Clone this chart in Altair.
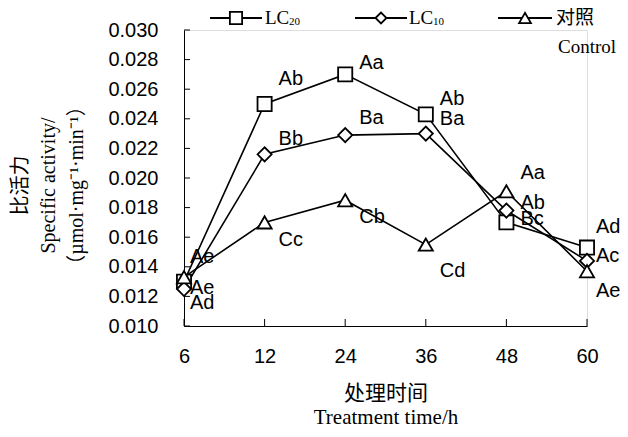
import altair as alt
import pandas as pd

# ---------------- data ----------------
times = ["6", "12", "24", "36", "48", "60"]
series_names = ["LC20", "LC10", "Control"]
lc20 = [0.0130, 0.0250, 0.0270, 0.0243, 0.0170, 0.0153]
lc10 = [0.0125, 0.0216, 0.0229, 0.0230, 0.0178, 0.0144]
control = [0.0133, 0.0170, 0.0185, 0.0155, 0.0191, 0.0137]

y_ticks = [0.010, 0.012, 0.014, 0.016, 0.018, 0.020, 0.022, 0.024, 0.026, 0.028, 0.030]

label_time = ["6", "6", "6",
              "12", "12", "12",
              "24", "24", "24",
              "36", "36", "36",
              "48", "48", "48",
              "60", "60", "60"]
label_y = [0.01466, 0.01257, 0.01155,
           0.02669, 0.02264, 0.01581,
           0.02777, 0.02405, 0.01736,
           0.02534, 0.02399, 0.01372,
           0.02034, 0.01831, 0.01723,
           0.01669, 0.01473, 0.01236]
label_text = ["Ae", "Ae", "Ad",
              "Ab", "Bb", "Cc",
              "Aa", "Ba", "Cb",
              "Ab", "Ba", "Cd",
              "Aa", "Ab", "Bc",
              "Ad", "Ac", "Ae"]

rows = []
for name, vals in zip(series_names, [lc20, lc10, control]):
    for t, v in zip(times, vals):
        rows.append({"series": name, "time": t, "value": v})
df = pd.DataFrame(rows)
labels_df = pd.DataFrame({"time": label_time, "y": label_y, "text": label_text})
xticks_df = pd.DataFrame({"time": times})
yticks_df = pd.DataFrame({"value": y_ticks})

W, H = 403, 296
SANS = "Liberation Sans"
SERIF = "Liberation Serif, Noto Sans CJK SC"

x_scale = alt.Scale(type="point", padding=0, domain=times)
y_scale = alt.Scale(domain=[0.010, 0.030], nice=False, zero=False)

x_axis = alt.Axis(
    title=["处理时间", "Treatment time/h"],
    titleFont=SERIF, titleFontSize=21, titleFontWeight="normal",
    titleLineHeight=24, titleBaseline="top", titleY=56, titleColor="black",
    labelFont=SANS, labelFontSize=20, labelAngle=0, labelPadding=20,
    labelColor="black", ticks=False, grid=False, domainColor="black",
    domainWidth=1,
)
y_axis = alt.Axis(
    title=["比活力", "Specific activity/", "（µmol·mg⁻¹·min⁻¹）"],
    titleFont=SERIF, titleFontSize=20, titleFontWeight="normal",
    titleLineHeight=28, titleAngle=270, titleBaseline="top",
    titleAlign="center", titleX=-174, titleY=155, titleColor="black",
    labelFont=SANS, labelFontSize=20, labelPadding=26, labelColor="black",
    format=".3f", values=y_ticks, ticks=False, grid=False,
    domainColor="black", domainWidth=1,
)

X = alt.X("time:O", sort=times, scale=x_scale, axis=x_axis)
Y = alt.Y("value:Q", scale=y_scale, axis=y_axis)

lines = alt.Chart(df).mark_line(color="black", strokeWidth=1.6).encode(
    x=X, y=Y, detail="series:N", order=alt.Order("time_idx:Q")
).transform_calculate(
    time_idx="indexof(['6','12','24','36','48','60'], datum.time)"
)

points = alt.Chart(df).mark_point(
    filled=True, fill="white", stroke="black", strokeWidth=1.8, opacity=1, size=200
).encode(
    x=X, y=Y,
    shape=alt.Shape("series:N", scale=alt.Scale(domain=series_names,
                    range=["square", "diamond", "triangle-up"]), legend=None),
)

xticks = alt.Chart(xticks_df).mark_rule(color="black", strokeWidth=1).encode(
    x=X, y=alt.value(H), y2=alt.value(H - 7)
)
yticks = alt.Chart(yticks_df).mark_rule(color="black", strokeWidth=1).encode(
    y=Y, x=alt.value(0), x2=alt.value(6)
)

text_base = alt.Chart(labels_df).encode(
    x=X, y=alt.Y("y:Q", scale=y_scale, axis=y_axis), text="text:N"
)
labels_first = text_base.transform_filter("datum.time == '6'").mark_text(
    align="left", baseline="middle", dx=6, font=SANS, fontSize=20, color="black")
labels_mid = text_base.transform_filter(
    "datum.time != '6' && datum.time != '60'").mark_text(
    align="left", baseline="middle", dx=14, font=SANS, fontSize=20, color="black")
labels_last = text_base.transform_filter("datum.time == '60'").mark_text(
    align="left", baseline="middle", dx=9, font=SANS, fontSize=20, color="black")

# ---------------- legend (drawn manually) ----------------
legend_layers = []
leg_y = -12
legend_items = [
    ("LC20", "square", 26, 78, 52, 150, [("LC", 81, 19, leg_y), ("20", 105, 11, leg_y + 4)]),
    ("LC10", "diamond", 171, 223, 197, 120, [("LC", 225, 19, leg_y), ("10", 249, 11, leg_y + 4)]),
    ("Control", "triangle-up", 314, 368, 341, 140, [("对照", 372, 19, leg_y), ("Control", 374, 19, leg_y + 29)]),
]
for name, shape, x1, x2, xm, sz, texts in legend_items:
    d = pd.DataFrame({"series": [name]})
    legend_layers.append(alt.Chart(d).mark_rule(color="black", strokeWidth=1.8).encode(
        x=alt.value(x1), x2=alt.value(x2), y=alt.value(leg_y)))
    legend_layers.append(alt.Chart(d).mark_point(
        shape=shape, filled=True, fill="white", stroke="black", strokeWidth=1.8,
        opacity=1, size=sz).encode(x=alt.value(xm), y=alt.value(leg_y)))
    for txt, tx, fs, ty in texts:
        legend_layers.append(alt.Chart(pd.DataFrame({"t": [txt]})).mark_text(
            align="left", baseline="middle", font=SERIF, fontSize=fs, color="black"
        ).encode(x=alt.value(tx), y=alt.value(ty), text="t:N"))

chart = alt.layer(
    lines, points, xticks, yticks, labels_first, labels_mid, labels_last,
    *legend_layers
).properties(
    width=W, height=H,
    autosize=alt.AutoSizeParams(type="none"),
    padding={"left": 176, "top": 22, "right": 33, "bottom": 103},
).configure_view(stroke=None).configure(background="white")

chart.save("out.html", embed_options={"renderer": "svg", "actions": False})
